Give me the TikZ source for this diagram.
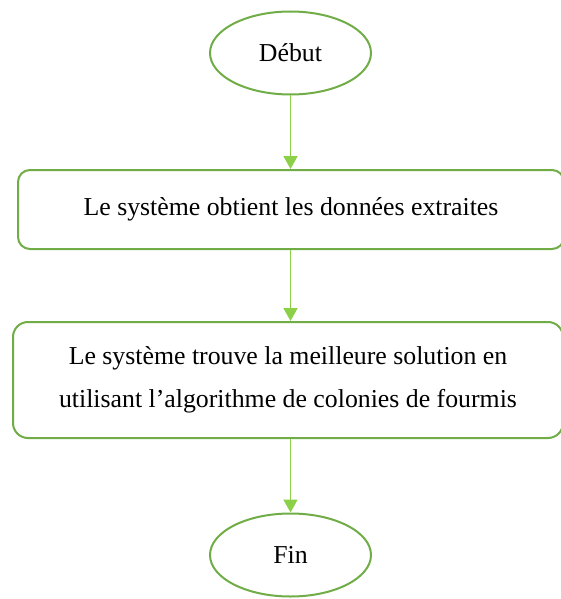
\documentclass[tikz,border=0pt]{standalone}
\usepackage{fontspec}
\setmainfont{Liberation Serif}
\usetikzlibrary{shapes.geometric,arrows.meta}
\definecolor{boxgreen}{HTML}{70AD47}
\definecolor{linkgreen}{HTML}{8CD048}
\tikzset{
  terminal/.style={ellipse, draw=boxgreen, line width=2pt, fill=white,
    minimum width=161pt, minimum height=83pt, inner sep=0pt,
    font=\fontsize{25.8}{30}\selectfont},
  process/.style={rectangle, rounded corners=12pt, draw=boxgreen, line width=2pt,
    fill=white, inner sep=0pt, align=center,
    font=\fontsize{25.8}{43}\selectfont},
  link/.style={color=linkgreen, line width=1.8pt,
    -{Triangle[width=14pt,length=13pt]}}
}
\begin{document}
\begin{tikzpicture}[x=1pt,y=-1pt]
  \useasboundingbox (0,0) rectangle (561,599);
  \clip (0,0) rectangle (561,599);
  \node[terminal] (start) at (290.5,53) {Début};
  \node[process, minimum width=546pt, minimum height=79pt] (extract) at (291,209.5)
    {Le système obtient les données extraites};
  \node[process, minimum width=550pt, minimum height=116pt, rounded corners=15pt] (solve) at (288,380)
    {Le système trouve la meilleure solution en\\utilisant l’algorithme de colonies de fourmis};
  \node[terminal] (stop) at (290.5,555) {Fin};
  \draw[link] (start.south) -- (start.south |- extract.north);
  \draw[link] (start.south |- extract.south) -- (start.south |- solve.north);
  \draw[link] (start.south |- solve.south) -- (stop.north);
\end{tikzpicture}
\end{document}
